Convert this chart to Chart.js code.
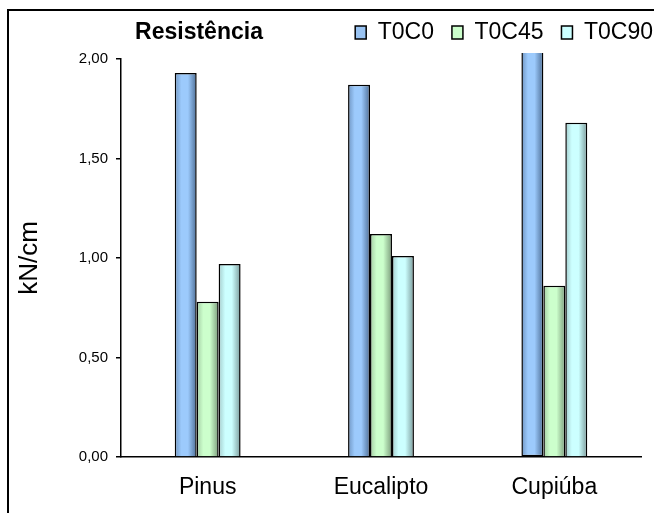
<!DOCTYPE html>
<html>
<head>
<meta charset="utf-8">
<script src="https://cdn.jsdelivr.net/npm/chart.js@4.4.0/dist/chart.umd.min.js"></script>
<style>
  html, body { margin: 0; padding: 0; background: #fff; overflow: hidden; }
  #wrap { position: relative; width: 654px; height: 513px; }
  #frame { position: absolute; left: 7px; top: 9px; width: 700px; height: 600px; border: 2px solid #000; pointer-events: none; }
</style>
</head>
<body>
<div id="wrap"><canvas id="chart" width="654" height="513"></canvas><div id="frame"></div></div>
<script>
const categories = ['Pinus', 'Eucalipto', 'Cupiúba'];
const seriesNames = ['T0C0', 'T0C45', 'T0C90'];
const t0c0 = [1.93, 1.87, 2.03];
const t0c45 = [0.78, 1.12, 0.86];
const t0c90 = [0.97, 1.01, 1.68];
const yTicks = [0, 0.5, 1, 1.5, 2];
const titleText = 'Resistência';
const yTitle = 'kN/cm';

const FONT = 'Arial, "Liberation Sans", sans-serif';
const CAT_PCT = 0.38;
// esquerda, centro claro, direita escura (efeito cilíndrico do Excel)
const SHADES = [
  ['#6f95c2', '#9ccafc', '#4d6e96'],
  ['#a3cca3', '#ccffcc', '#7b9b7b'],
  ['#a3cccc', '#ccffff', '#7b9b9b']
];
const FLAT = ['#99c3f2', '#ccffcc', '#ccffff'];

function barGradient(c) {
  const chart = c.chart;
  const xs = chart.scales.x;
  const shades = SHADES[c.datasetIndex];
  if (!xs || !chart.chartArea || c.type !== 'data') return shades[1];
  const groupW = (xs.width / categories.length) * CAT_PCT;
  const bw = groupW / seriesNames.length;
  const left = xs.getPixelForValue(c.dataIndex) - groupW / 2 + c.datasetIndex * bw;
  const g = chart.ctx.createLinearGradient(left, 0, left + bw, 0);
  g.addColorStop(0, shades[0]);
  g.addColorStop(0.3, shades[1]);
  g.addColorStop(0.6, shades[1]);
  g.addColorStop(1, shades[2]);
  return g;
}

const makeSet = (label, data) => ({
  label, data,
  backgroundColor: barGradient,
  borderColor: '#000',
  borderWidth: 1.5,
  borderSkipped: c => (c.raw > yTicks[yTicks.length - 1] ? 'end' : 'start'),
  clip: false,
  categoryPercentage: CAT_PCT,
  barPercentage: 1
});

/* título ao lado da legenda, na mesma linha */
const sideTitle = {
  id: 'sideTitle',
  afterDraw(chart) {
    const c = chart.ctx;
    c.save();
    c.font = 'bold 23px ' + FONT;
    c.fillStyle = '#000';
    c.textAlign = 'center';
    c.textBaseline = 'alphabetic';
    c.fillText(titleText, 199, 39);
    c.restore();
  }
};

// eixos vazios só para reservar margens
const spacer = (position, size) => ({
  position,
  grid: { display: false, drawTicks: false },
  border: { display: false },
  ticks: { display: false },
  afterFit: s => { if (position === 'top') s.height = size; else s.width = size; }
});

new Chart(document.getElementById('chart'), {
  type: 'bar',
  data: {
    labels: categories,
    datasets: [makeSet(seriesNames[0], t0c0), makeSet(seriesNames[1], t0c45), makeSet(seriesNames[2], t0c90)]
  },
  plugins: [sideTitle],
  options: {
    responsive: false,
    animation: false,
    layout: { padding: { left: 8, right: -17, top: 3, bottom: 0 } },
    plugins: {
      tooltip: { enabled: false },
      legend: {
        position: 'top',
        align: 'end',
        labels: {
          color: '#000',
          font: { family: FONT, size: 23 },
          boxWidth: 11,
          boxHeight: 13,
          padding: 18,
          generateLabels: () => seriesNames.map((n, i) => ({
            text: n, fillStyle: FLAT[i], strokeStyle: '#000', lineWidth: 1.5, datasetIndex: i, hidden: false
          }))
        }
      }
    },
    scales: {
      x: {
        grid: { display: false, drawTicks: false },
        border: { display: true, color: '#000', width: 1.5 },
        ticks: { color: '#000', font: { family: FONT, size: 23 }, padding: 17 },
        afterFit: s => { s.height = 56; }
      },
      y: {
        min: 0,
        max: 2,
        afterBuildTicks: s => { s.ticks = yTicks.map(v => ({ value: v })); },
        grid: { drawOnChartArea: false, drawTicks: true, tickLength: 5, color: '#000', lineWidth: 1.5 },
        border: { display: true, color: '#000', width: 1.5 },
        ticks: {
          color: '#000', font: { family: FONT, size: 15 }, padding: 8,
          callback: v => v.toFixed(2).replace('.', ',')
        },
        title: { display: true, text: yTitle, color: '#000', font: { family: FONT, size: 26 }, padding: { top: 6, bottom: 0 } },
        afterFit: s => { s.width = 113; }
      },
      padRight: spacer('right', 30),
      padTop: spacer('top', 5)
    }
  }
});
</script>
</body>
</html>
